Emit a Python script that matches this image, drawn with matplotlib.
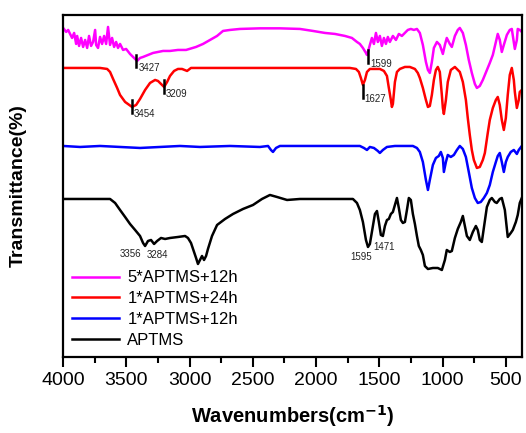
import matplotlib.pyplot as plt
import numpy as np

plt.rcParams['font.family'] = ['Liberation Sans', 'DejaVu Sans']

# wavenumbers (cm-1) and offset transmittance
wn_5x12 = [4000, 3976, 3960, 3945, 3929, 3913, 3897, 3889, 3874, 3858, 3842, 3826, 3810, 3795,
           3779, 3763, 3747, 3739, 3724, 3708, 3692, 3676, 3660, 3645, 3629, 3613, 3597, 3581,
           3566, 3550, 3526, 3502, 3471, 3447, 3423, 3415, 3392, 3368, 3329, 3289, 3250, 3210,
           3155, 3092, 3028, 2949, 2894, 2839, 2783, 2736, 2681, 2602, 2444, 2286, 2128, 2025,
           1930, 1851, 1772, 1717, 1677, 1654, 1630, 1606, 1598, 1590, 1575, 1559, 1543, 1527,
           1512, 1496, 1480, 1464, 1448, 1433, 1417, 1393, 1369, 1346, 1322, 1298, 1275, 1251,
           1227, 1203, 1180, 1156, 1132, 1116, 1101, 1085, 1069, 1045, 1022, 998, 982, 967,
           943, 927, 903, 880, 864, 840, 816, 793, 769, 745, 729, 706, 682, 650, 627, 603,
           579, 564, 548, 532, 516, 492, 469, 453, 437, 429, 413, 406, 390, 374]
t_5x12 = [164.5, 162.5, 163.5, 161.5, 159.5, 162, 156.5, 160.5, 155.5, 159.5, 155, 158.5, 154.5, 160.5,
          155.5, 157.5, 163.5, 156, 154.5, 160, 156.5, 160.5, 156.5, 165, 156, 159.5, 155, 157.5,
          154.5, 156.5, 153.5, 154, 151.5, 150, 148.5, 148, 149.5, 150, 151, 152, 152.5, 153,
          153, 153.5, 153.5, 155, 156.5, 158.5, 160.5, 163, 163.5, 164, 164.3, 164.3, 164, 163,
          162, 161.5, 160.5, 159.5, 157.5, 156.5, 154.5, 152, 151, 152.5, 156, 159.5, 156.5, 162,
          157.5, 160.5, 155.5, 159.5, 156.5, 160, 157.5, 160.5, 158.5, 161.5, 160.5, 162, 163.5, 164,
          163.5, 164, 162, 156, 147.5, 143.5, 142, 147.5, 154.5, 157.5, 156, 151.5, 156, 159.5,
          156.5, 155, 160.5, 163.5, 164.5, 162, 156, 148.5, 142, 136.5, 134.5, 135.5, 138.5, 143.5, 147, 151,
          157.5, 161.5, 158.5, 152.5, 156, 161, 163.5, 164, 157.5, 154, 158.5, 164, 163.5, 162.5]

wn_1x24 = [4000, 3708, 3652, 3629, 3605, 3573, 3550, 3510, 3455, 3423, 3392, 3352, 3313, 3273,
           3250, 3226, 3202, 3178, 3155, 3123, 3092, 3060, 3020, 2989, 2523, 2128, 1733, 1685,
           1662, 1646, 1630, 1614, 1598, 1575, 1496, 1464, 1440, 1425, 1409, 1401, 1393, 1377,
           1361, 1338, 1298, 1259, 1219, 1196, 1180, 1156, 1132, 1116, 1101, 1085, 1069, 1053,
           1038, 1022, 1006, 998, 990, 974, 959, 935, 903, 864, 840, 816, 801, 785, 769, 753,
           729, 706, 682, 666, 643, 627, 603, 579, 564, 548, 532, 516, 500, 485, 469, 453,
           437, 429, 413, 398, 390, 374]
t_1x24 = [144.5, 144.5, 144, 142.5, 139, 134.5, 131, 127.5, 125, 126, 129, 133.5, 137, 138.5,
          138, 136.5, 135, 137.5, 140.5, 143, 144, 144, 143, 144.5, 144.5, 144.5, 144.5, 144,
          142.5, 139.5, 136, 138.5, 142.5, 144, 144, 143, 140.5, 134.5, 128.5, 125, 126.5, 137.5,
          142.5, 144, 145, 145, 144, 142, 139.5, 134.5, 128.5, 125, 125.5, 131, 138.5, 143.5,
          145, 142.5, 131, 124.5, 121.5, 128.5, 137.5, 143.5, 145, 142.5, 137.5, 128.5, 119.5, 111, 103.5, 98.5,
          94.5, 95, 98.5, 102, 112, 118.5, 124.5, 128.5, 130, 126, 118.5, 113.5, 119.5, 131, 141, 144.5,
          138.5, 132.5, 124.5, 128.5, 132.5, 133.5]

wn_1x12 = [4000, 3866, 3708, 3550, 3392, 3234, 3076, 2918, 2681, 2444, 2380, 2357, 2341, 2317,
           2286, 2128, 1891, 1654, 1622, 1598, 1575, 1543, 1512, 1496, 1472, 1440, 1377, 1235,
           1203, 1180, 1156, 1132, 1116, 1101, 1077, 1053, 1030, 1014, 998, 990, 974, 959,
           935, 911, 887, 864, 840, 816, 793, 769, 745, 722, 698, 674, 650, 627, 603, 579,
           564, 548, 532, 516, 500, 485, 461, 437, 413, 398, 374]
t_1x12 = [105.5, 105, 105.5, 105, 104.5, 105, 105.5, 105, 105.5, 105, 105.5, 103.5, 102.5, 104.5,
          105.5, 105.5, 105.5, 105.5, 104.5, 103.5, 105, 104.5, 103, 102, 103.5, 105, 105.5, 105.5,
          104.5, 102.5, 97.5, 88.5, 83.5, 88.5, 96, 99.5, 100.5, 102.5, 99.5, 92.5, 97.5, 101,
          100, 101, 103.5, 105.5, 104, 100, 92.5, 84.5, 79.5, 77, 77.5, 79.5, 82, 86, 92.5, 97.5,
          100.5, 102, 97.5, 92.5, 97.5, 100, 102.5, 103.5, 101.5, 103.5, 105.5]

wn_aptms = [4000, 3866, 3629, 3589, 3550, 3510, 3471, 3431, 3392, 3368, 3352, 3329, 3305, 3281,
            3257, 3226, 3194, 3155, 3092, 3036, 3013, 2989, 2965, 2949, 2934, 2918, 2902, 2886,
            2870, 2855, 2823, 2783, 2720, 2657, 2578, 2499, 2428, 2365, 2309, 2230, 2128, 1709,
            1677, 1654, 1630, 1606, 1590, 1575, 1559, 1535, 1519, 1504, 1488, 1472, 1456, 1440,
            1425, 1409, 1393, 1377, 1361, 1346, 1330, 1314, 1298, 1282, 1267, 1251, 1235, 1219,
            1203, 1188, 1172, 1156, 1140, 1116, 1077, 1038, 1006, 982, 967, 943, 927, 903,
            880, 856, 840, 824, 808, 785, 761, 737, 722, 706, 690, 674, 650, 627, 611, 587,
            572, 548, 532, 508, 485, 461, 445, 421, 406, 390, 374]
t_aptms = [79, 79, 79, 77, 73.5, 70, 66.5, 63.5, 60.5, 57, 55.5, 58, 58.5, 56.5,
           58, 59.5, 59, 59.5, 60, 60.5, 59.5, 57, 52.5, 49.5, 46.5, 48.5, 50.5, 48.5,
           50.5, 54, 60.5, 66, 69, 71.5, 74, 76, 79, 81, 80, 78.5, 79, 79,
           77, 73.5, 67.5, 58.5, 55, 56.5, 62.5, 71.5, 73, 67.5, 61, 60.5, 65.5, 68.5,
           69, 71.5, 72.5, 76, 79.5, 74.5, 68.5, 67, 67.5, 73.5, 79.5, 78.5, 71.5, 66.5,
           60.5, 55.5, 53.5, 51, 45.5, 44, 44.5, 44.5, 43.5, 48.5, 53.5, 52.5, 53, 59.5,
           64, 67.5, 70.5, 65.5, 60.5, 58.5, 62.5, 65.5, 63.5, 58.5, 57.5, 64.5, 75, 78.5, 79.5, 77.5,
           77, 79, 79.5, 73.5, 60, 62, 63.5, 67.5, 71, 77, 79.5]

# marked peaks: (label, bar x, bar top, bar bottom)
marks = [("3427", 3420, 151, 145), ("3454", 3455, 128.5, 122),
         ("3209", 3202, 138.5, 132), ("1599", 1590, 153.5, 147),
         ("1627", 1630, 136, 129.5)]
# plain labels under the APTMS curve: (label, x, y)
labels = [("3356", 3471, 51.5), ("3284", 3257, 51), ("1595", 1646, 50), ("1471", 1464, 55)]

fig = plt.figure(figsize=(5.26, 4.33), dpi=100)
ax = fig.add_axes([0.12, 0.1755, 0.872, 0.79])

ax.plot(wn_5x12, t_5x12, color='#ff00ff', lw=1.8, label='5*APTMS+12h')
ax.plot(wn_1x24, t_1x24, color='#ff0000', lw=1.8, label='1*APTMS+24h')
ax.plot(wn_1x12, t_1x12, color='#0000ff', lw=1.8, label='1*APTMS+12h')
ax.plot(wn_aptms, t_aptms, color='black', lw=1.8, label='APTMS')

for text, x, y0, y1 in marks:
    ax.plot([x, x], [y0, y1], color='black', lw=1.8)
    ax.text(x - 15, y1 + 2, text, fontsize=7, ha='left', va='top', color='#222222')
for text, x, y in labels:
    ax.text(x, y, text, fontsize=7, ha='center', va='center', color='#222222')

ax.set_xlim(4000, 374)
ax.set_ylim(0, 171)
ax.set_xticks([4000, 3500, 3000, 2500, 2000, 1500, 1000, 500])
ax.set_xticks(np.arange(3750, 374, -500), minor=True)
ax.set_yticks([])
ax.tick_params(axis='x', which='major', length=7, width=1.5, labelsize=14, pad=4)
ax.tick_params(axis='x', which='minor', length=4, width=1.5)
for s in ax.spines.values():
    s.set_linewidth(1.6)

ax.set_xlabel('Wavenumbers(cm$^{\\mathbf{-1}}$)', fontsize=14.5, fontweight='bold', labelpad=10)
ax.set_ylabel('Transmittance(%)', fontsize=14, fontweight='bold', labelpad=26)

ax.legend(loc='lower left', frameon=False, fontsize=12, handlelength=2.8,
          labelspacing=0.35, borderaxespad=0.15, handletextpad=0.5)

fig.savefig('out.png', dpi=100)
